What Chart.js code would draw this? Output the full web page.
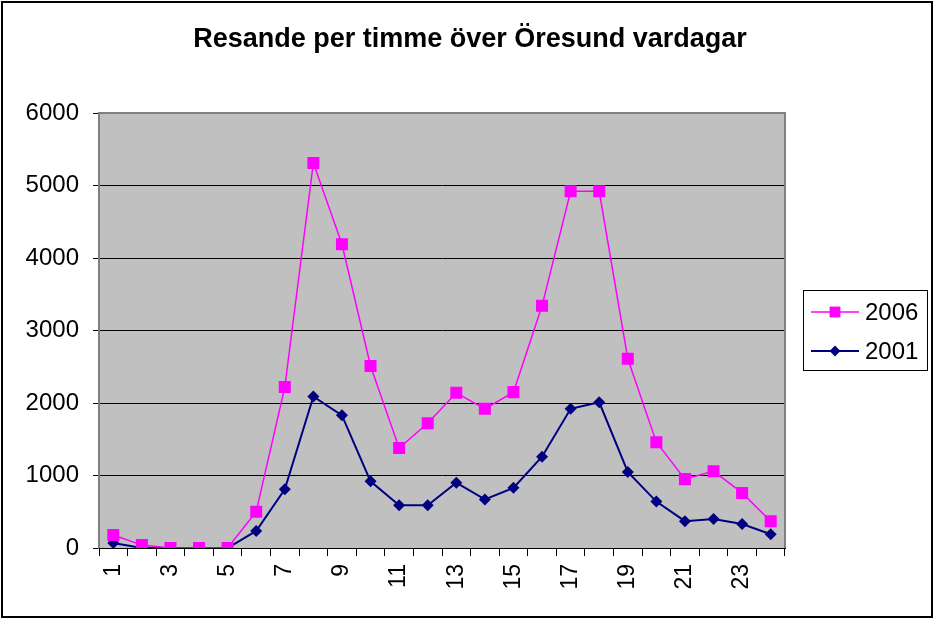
<!DOCTYPE html>
<html>
<head>
<meta charset="utf-8">
<script src="https://cdn.jsdelivr.net/npm/chart.js@4/dist/chart.umd.min.js"></script>
<style>
  html, body { margin: 0; padding: 0; background: #fff; }
  #wrap { width: 936px; height: 621px; }
</style>
</head>
<body>
<div id="wrap"><canvas id="chart" width="936" height="621"></canvas></div>
<script>
const hours = ['1','2','3','4','5','6','7','8','9','10','11','12','13','14','15','16','17','18','19','20','21','22','23','24'];
const travel2006 = [180, 40, 0, 0, 0, 500, 2220, 5310, 4190, 2510, 1380, 1720, 2140, 1920, 2150, 3340, 4920, 4920, 2610, 1460, 950, 1060, 760, 370];
const travel2001 = [70, 0, 0, 0, 0, 235, 810, 2090, 1830, 920, 590, 590, 900, 670, 830, 1260, 1920, 2010, 1050, 640, 370, 400, 330, 190];
const titleText = 'Resande per timme över Öresund vardagar';
const FONT = 'Arial, "Liberation Sans", sans-serif';

const framePlugin = {
    id: 'frame',
    beforeDraw(chart) {
        const c = chart.ctx, a = chart.chartArea;
        c.save();
        c.fillStyle = '#fff';
        c.fillRect(0, 0, chart.width, chart.height);
        c.strokeStyle = '#000';
        c.lineWidth = 2;
        c.strokeRect(2, 2, 930, 615);
        c.fillStyle = '#c0c0c0';
        c.fillRect(a.left, a.top, a.right - a.left, a.bottom - a.top);
        c.restore();
    },
    beforeDatasetsDraw(chart) {
        const c = chart.ctx, a = chart.chartArea;
        c.save();
        c.strokeStyle = '#808080';
        c.lineWidth = 2;
        c.beginPath();
        c.moveTo(a.left, a.bottom);
        c.lineTo(a.left, a.top);
        c.lineTo(a.right, a.top);
        c.lineTo(a.right, a.bottom);
        c.stroke();
        c.strokeStyle = '#000';
        c.lineWidth = 1;
        c.beginPath();
        c.moveTo(a.left, a.bottom + 0.5);
        c.lineTo(a.right, a.bottom + 0.5);
        c.stroke();
        c.restore();
    },
    afterDraw(chart) {
        const c = chart.ctx;
        c.save();
        c.fillStyle = '#000';
        c.font = 'bold 27px ' + FONT;
        c.textAlign = 'center';
        c.textBaseline = 'middle';
        c.fillText(titleText, 470, 40);

        // legend
        c.fillStyle = '#fff';
        c.fillRect(803.5, 290.5, 124, 80);
        c.strokeStyle = '#000';
        c.lineWidth = 1;
        c.strokeRect(803.5, 290.5, 124, 80);
        const rows = [312, 351];
        chart.data.datasets.forEach((ds, i) => {
            const y = rows[i];
            c.strokeStyle = ds.borderColor;
            c.lineWidth = ds.borderWidth;
            c.beginPath();
            c.moveTo(811, y);
            c.lineTo(859, y);
            c.stroke();
            c.fillStyle = ds.pointBackgroundColor;
            c.strokeStyle = ds.pointBorderColor;
            Chart.helpers.drawPoint(c, {
                pointStyle: ds.pointStyle,
                radius: ds.pointRadius * 0.9,
                rotation: 0,
                borderWidth: 0
            }, 835, y);
            c.fillStyle = '#000';
            c.font = '24px ' + FONT;
            c.textAlign = 'left';
            c.textBaseline = 'middle';
            c.fillText(ds.label, 865, y + 1);
        });
        c.restore();
    }
};

new Chart(document.getElementById('chart'), {
    type: 'line',
    data: {
        labels: hours,
        datasets: [
            {
                label: '2006',
                data: travel2006,
                borderColor: '#ff00ff',
                borderWidth: 1.5,
                pointStyle: 'rect',
                pointRadius: 8.5,
                pointBackgroundColor: '#ff00ff',
                pointBorderColor: '#ff00ff',
                pointBorderWidth: 0,
                tension: 0
            },
            {
                label: '2001',
                data: travel2001,
                borderColor: '#000080',
                borderWidth: 2,
                pointStyle: 'rectRot',
                pointRadius: 6,
                pointBackgroundColor: '#000080',
                pointBorderColor: '#000080',
                pointBorderWidth: 0,
                tension: 0
            }
        ]
    },
    options: {
        responsive: false,
        animation: false,
        layout: { padding: { top: 113, right: 151, left: 0, bottom: 0 } },
        plugins: {
            legend: { display: false },
            title: { display: false },
            tooltip: { enabled: false }
        },
        scales: {
            x: {
                offset: true,
                afterFit: s => { s.height = 73; },
                grid: {
                    offset: true,
                    drawOnChartArea: false,
                    drawTicks: true,
                    tickLength: 8,
                    color: '#000'
                },
                border: { display: true, color: '#000', width: 1 },
                ticks: {
                    autoSkip: false,
                    minRotation: 90,
                    maxRotation: 90,
                    padding: 8,
                    color: '#000',
                    font: { family: FONT, size: 23 },
                    callback: (v, i) => (i % 2 === 0 ? hours[i] : '')
                }
            },
            y: {
                min: 0,
                max: 6000,
                afterFit: s => { s.width = 99; },
                grid: {
                    color: '#000',
                    lineWidth: 1,
                    tickLength: 6,
                    tickColor: '#000'
                },
                border: { display: true, color: '#808080', width: 2 },
                ticks: {
                    stepSize: 1000,
                    padding: 14,
                    color: '#000',
                    font: { family: FONT, size: 24 },
                    callback: v => String(v)
                }
            }
        }
    },
    plugins: [framePlugin]
});
</script>
</body>
</html>
